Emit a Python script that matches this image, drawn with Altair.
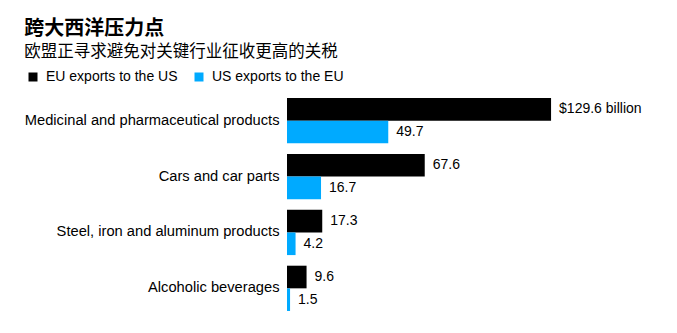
import altair as alt
import pandas as pd

categories = ["Medicinal and pharmaceutical products", "Cars and car parts",
              "Steel, iron and aluminum products", "Alcoholic beverages"]
series = ["EU exports to the US", "US exports to the EU"]
eu_values = [129.6, 67.6, 17.3, 9.6]
us_values = [49.7, 16.7, 4.2, 1.5]
eu_labels = ["$129.6 billion", "67.6", "17.3", "9.6"]
us_labels = ["49.7", "16.7", "4.2", "1.5"]
colors = ["#000000", "#00aaff"]

rows = []
for i, c in enumerate(categories):
    rows.append({"category": c, "series": series[0], "value": eu_values[i], "label": eu_labels[i]})
    rows.append({"category": c, "series": series[1], "value": us_values[i], "label": us_labels[i]})
df = pd.DataFrame(rows)

FONT = "Liberation Sans"

y = alt.Y("category:N", sort=categories, title=None,
          scale=alt.Scale(paddingInner=0.19, paddingOuter=0.09),
          axis=alt.Axis(labelFontSize=14.7, labelFont=FONT, labelColor="#000000",
                        labelLimit=400, labelPadding=8, ticks=False, domain=False))
yoff = alt.YOffset("series:N", sort=series, scale=alt.Scale(paddingInner=0.0))
x = alt.X("value:Q", axis=None, scale=alt.Scale(domain=[0, 160]))

base = alt.Chart(df).encode(y=y, yOffset=yoff, x=x)

bars = base.mark_bar().encode(
    color=alt.Color("series:N", sort=series,
                    scale=alt.Scale(domain=series, range=colors),
                    legend=alt.Legend(title=None, orient="none", direction="horizontal",
                                      legendX=-261, legendY=-23, symbolType="square",
                                      symbolSize=81, symbolStrokeWidth=0,
                                      labelFont=FONT, labelFontSize=14, labelColor="#000000",
                                      columnPadding=14, labelOffset=6))
)
texts = base.mark_text(align="left", baseline="middle", dx=8, font=FONT,
                       fontSize=14, color="#000000").encode(text="label:N")

chart = alt.layer(bars, texts).properties(
    width=326, height=223, background="white",
    padding={"left": 24, "top": 18, "right": 5, "bottom": 5},
    title=alt.TitleParams(text="跨大西洋压力点", subtitle="欧盟正寻求避免对关键行业征收更高的关税",
                          anchor="start", frame="bounds", font="Noto Sans CJK SC", fontSize=20,
                          fontWeight="bold", color="#000000",
                          subtitleFont="Noto Sans CJK SC", subtitleFontSize=16.5,
                          subtitleColor="#000000", subtitlePadding=5, offset=10)
).configure_view(strokeWidth=0, stroke="transparent")

chart.save("out.html", embed_options={"renderer": "svg", "actions": False})
